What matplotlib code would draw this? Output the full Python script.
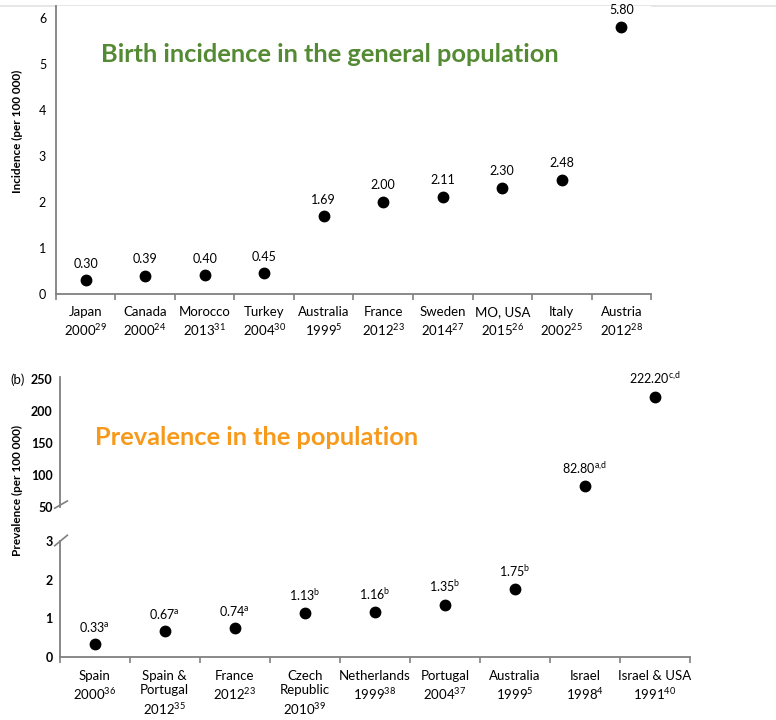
import numpy as np
import matplotlib
matplotlib.use("Agg")
import matplotlib.pyplot as plt
from matplotlib.lines import Line2D

plt.rcParams['font.family'] = ['Lato', 'DejaVu Sans']
plt.rcParams['mathtext.fontset'] = 'custom'
plt.rcParams['mathtext.rm'] = 'Lato'
plt.rcParams['mathtext.default'] = 'regular'

# (a) birth incidence
inc_places = ["Japan", "Canada", "Morocco", "Turkey", "Australia", "France",
              "Sweden", "MO, USA", "Italy", "Austria"]
inc_years = ["2000", "2000", "2013", "2004", "1999", "2012", "2014", "2015", "2002", "2012"]
inc_refs = ["29", "24", "31", "30", "5", "23", "27", "26", "25", "28"]
inc_values = [0.30, 0.39, 0.40, 0.45, 1.69, 2.00, 2.11, 2.30, 2.48, 5.80]

# (b) prevalence
prev_places = ["Spain", "Spain &\nPortugal", "France", "Czech\nRepublic", "Netherlands",
               "Portugal", "Australia", "Israel", "Israel & USA"]
prev_years = ["2000", "2012", "2012", "2010", "1999", "2004", "1999", "1998", "1991"]
prev_refs = ["36", "35", "23", "39", "38", "37", "5", "4", "40"]
prev_values = [0.33, 0.67, 0.74, 1.13, 1.16, 1.35, 1.75, 82.80, 222.20]
prev_notes = ["a", "a", "a", "b", "b", "b", "b", "a{,}d", "c{,}d"]

SPINE = '#808080'
GREEN = '#558a34'
ORANGE = '#f79a1c'

fig = plt.figure(figsize=(7.76, 7.2), dpi=100)
fig.add_artist(Line2D([0, 1], [0.992, 0.992], color='#e2e2e2', lw=1.2, zorder=-1))


def style_axis(ax, n, bold=False, show_x=True, ypad=7):
    for s in ['top', 'right']:
        ax.spines[s].set_visible(False)
    ax.spines['left'].set_color(SPINE)
    ax.spines['left'].set_linewidth(1.3)
    ax.spines['bottom'].set_color(SPINE)
    ax.spines['bottom'].set_linewidth(1.3)
    ax.set_xlim(-0.5, n - 0.5)
    ax.tick_params(axis='y', length=0, pad=ypad, labelsize=9)
    if bold:
        for t in ax.get_yticklabels():
            t.set_fontweight('bold')
    if show_x:
        ax.set_xticks(np.arange(n + 1) - 0.5)
        ax.set_xticklabels([])
        ax.tick_params(axis='x', which='major', length=4, width=1.2, color=SPINE, direction='out')
        ax.set_xticks(np.arange(n), minor=True)
        ax.tick_params(axis='x', which='minor', length=0, pad=9, labelsize=9.5)
    else:
        ax.spines['bottom'].set_visible(False)
        ax.set_xticks([])


# top panel
ax1 = fig.add_axes([0.072, 0.592, 0.767, 0.399])
x1 = np.arange(len(inc_values))
ax1.plot(x1, inc_values, 'o', color='black', ms=7.5)
ax1.set_ylim(0, 6.24)
ax1.set_yticks(range(7))
style_axis(ax1, len(inc_values), ypad=7)
ax1.set_xticklabels([f"{p}\n{y}$^{{{r}}}$" for p, y, r in zip(inc_places, inc_years, inc_refs)],
                    minor=True, linespacing=1.3)
for xi, v in zip(x1, inc_values):
    ax1.annotate(f"{v:.2f}", (xi, v), xytext=(0, 7.5), textcoords='offset points',
                 ha='center', va='bottom', fontsize=9, annotation_clip=False)
fig.text(0.022, 0.817, "Incidence (per 100 000)", rotation=90, ha='center', va='center',
         fontsize=8.5, fontweight='bold')
fig.text(0.425, 0.924, "Birth incidence in the general population", color=GREEN,
         fontsize=18.3, fontweight='bold', ha='center', va='center')

# bottom panel, split y axis
x2 = np.arange(len(prev_values))
vals = np.array(prev_values)
high = vals > 50

ax2 = fig.add_axes([0.077, 0.296, 0.812, 0.181])
ax2.plot(x2[high], vals[high], 'o', color='black', ms=7.5)
ax2.set_ylim(50, 254)
ax2.set_yticks([50, 100, 150, 200, 250])
style_axis(ax2, len(prev_values), bold=True, show_x=False, ypad=5)

ax3 = fig.add_axes([0.077, 0.0875, 0.812, 0.161])
ax3.plot(x2[~high], vals[~high], 'o', color='black', ms=7.5)
ax3.set_ylim(0, 3)
ax3.set_yticks([0, 1, 2, 3])
style_axis(ax3, len(prev_values), bold=True, ypad=5)
ax3.set_xticklabels([f"{p}\n{y}$^{{{r}}}$" for p, y, r in zip(prev_places, prev_years, prev_refs)],
                    minor=True, linespacing=1.3)

for xi, v, note, h in zip(x2, vals, prev_notes, high):
    ax = ax2 if h else ax3
    ax.annotate(f"{v:.2f}$^{{{note}}}$", (xi, v), xytext=(0, 7.5), textcoords='offset points',
                ha='center', va='bottom', fontsize=9, annotation_clip=False)

# break marks on the left spine
kw = dict(color=SPINE, lw=1.2, clip_on=False)
ax2.plot([-0.008, 0.012], [-0.01, 0.045], transform=ax2.transAxes, **kw)
ax3.plot([-0.008, 0.012], [0.96, 1.05], transform=ax3.transAxes, **kw)

fig.text(0.022, 0.319, "Prevalence (per 100 000)", rotation=90, ha='center', va='center',
         fontsize=8.5, fontweight='bold')
fig.text(0.014, 0.472, "(b)", ha='left', va='center', fontsize=9.5)
fig.text(0.33, 0.392, "Prevalence in the population", color=ORANGE,
         fontsize=18.3, fontweight='bold', ha='center', va='center')

fig.savefig("out.png", dpi=100)
